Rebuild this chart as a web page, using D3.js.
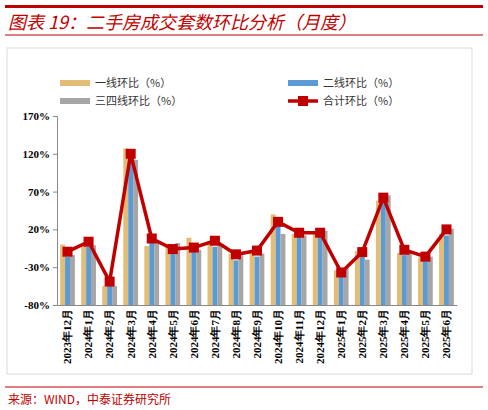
<!DOCTYPE html><html><head><meta charset="utf-8">
<script src="https://cdn.jsdelivr.net/npm/d3@7/dist/d3.min.js"></script>
<style>body{margin:0;background:#fff}</style></head><body><svg id="c" width="488" height="410"></svg>
<script>
const categories=["2023年12月","2024年1月","2024年2月","2024年3月","2024年4月","2024年5月","2024年6月","2024年7月","2024年8月","2024年9月","2024年10月","2024年11月","2024年12月","2025年1月","2025年2月","2025年3月","2025年4月","2025年5月","2025年6月"];
const tier1=[0,-1,-55,127,-2,1,9,2,-12,-8,40,14,14,-34,-9,58,-11,-17,14];
const tier2=[-16,-3,-55,110,4,-12,-7,-3,-21,-16,28,10,10,-43,-16,58,-14,-21,12];
const tier34=[-14,-1,-55,112,4,2,-7,-1,-14,-12,14,12,18,-30,-20,65,-9,-16,21];
const total=[-9.5,3.7,-49,120,8,-6,-4,5,-13,-8,30,15.6,15.6,-37,-10,62,-7,-16,20];
const yTicks=[-80,-30,20,70,120,170];
const seriesNames=["一线环比（%）","二线环比（%）","三四线环比（%）","合计环比（%）"];
const colors=["#E3BC75","#5B9BD5","#A6A6A6","#C00000"];
const svg=d3.select("#c");
const red="#C00000";
svg.append("rect").attr("x",5).attr("y",5).attr("width",478).attr("height",3).attr("fill",red);
svg.append("text").attr("x",8).attr("y",29).attr("fill",red).attr("font-size",18).attr("font-style","italic").attr("font-family","Noto Sans CJK SC").text("图表 19：二手房成交套数环比分析（月度）");
svg.append("line").attr("x1",5).attr("x2",483).attr("y1",35).attr("y2",35).attr("stroke",red).attr("stroke-width",1);
svg.append("rect").attr("x",7).attr("y",48).attr("width",465).attr("height",326).attr("fill","none").attr("stroke","#d9d9d9");
svg.append("line").attr("x1",5).attr("x2",483).attr("y1",387).attr("y2",387).attr("stroke",red);
svg.append("text").attr("x",8).attr("y",404).attr("fill",red).attr("font-size",12).attr("font-family","Noto Sans CJK SC").text("来源：WIND，中泰证券研究所");
const y=d3.scaleLinear().domain([-80,170]).range([305,116]);
const x=d3.scaleBand().domain(categories).range([57,457]).paddingInner(0.3).paddingOuter(0.15);
const xs=d3.scaleBand().domain([0,1,2]).range([0,x.bandwidth()]);
const g=svg.append("g");
const ya=g.append("g").attr("transform","translate(57,0)").call(d3.axisLeft(y).tickValues(yTicks).tickFormat(d=>d+"%").tickSize(4));
ya.selectAll("text").attr("font-family","Liberation Serif").attr("font-weight","bold").attr("font-size",11).attr("fill","#000");
ya.select(".domain").attr("stroke","#888");ya.selectAll("line").attr("stroke","#888");
[tier1,tier2,tier34].forEach((s,i)=>{
 g.selectAll(null).data(s).enter().append("rect").attr("x",(d,j)=>x(categories[j])+xs(i)).attr("width",xs.bandwidth()).attr("y",d=>y(d)).attr("height",d=>305-y(d)).attr("fill",colors[i]);
});
const xa=g.append("g").attr("transform","translate(0,305)").call(d3.axisBottom(x).tickSize(0).tickSizeOuter(0));
xa.select(".domain").attr("stroke","#888");
xa.selectAll("text").attr("transform","rotate(-90)").attr("text-anchor","end").attr("dx","-4").attr("dy","0.35em").attr("x",0).attr("y",0).attr("font-family","Liberation Serif").attr("font-weight","bold").attr("font-size",11).attr("fill","#000");
const cx=(d,j)=>x(categories[j])+x.bandwidth()/2;
g.append("path").datum(total).attr("d",d3.line().x(cx).y(d=>y(d))).attr("fill","none").attr("stroke",red).attr("stroke-width",3.5);
g.selectAll(null).data(total).enter().append("rect").attr("x",(d,j)=>cx(d,j)-5).attr("y",d=>y(d)-5).attr("width",10).attr("height",10).attr("fill",red);
const lg=[[60,83],[288,83],[60,101],[288,101]];
seriesNames.forEach((n,i)=>{
 const [lx,ly]=lg[i];
 if(i<3) svg.append("rect").attr("x",lx).attr("y",ly-3).attr("width",30).attr("height",6).attr("fill",colors[i]);
 else {svg.append("line").attr("x1",lx).attr("x2",lx+30).attr("y1",ly).attr("y2",ly).attr("stroke",red).attr("stroke-width",3.5);
  svg.append("rect").attr("x",lx+10).attr("y",ly-5).attr("width",10).attr("height",10).attr("fill",red);}
 svg.append("text").attr("x",lx+35).attr("y",ly+4).attr("font-size",11).attr("font-family","Noto Sans CJK SC").attr("fill","#333").text(n);
});
</script></body></html>
